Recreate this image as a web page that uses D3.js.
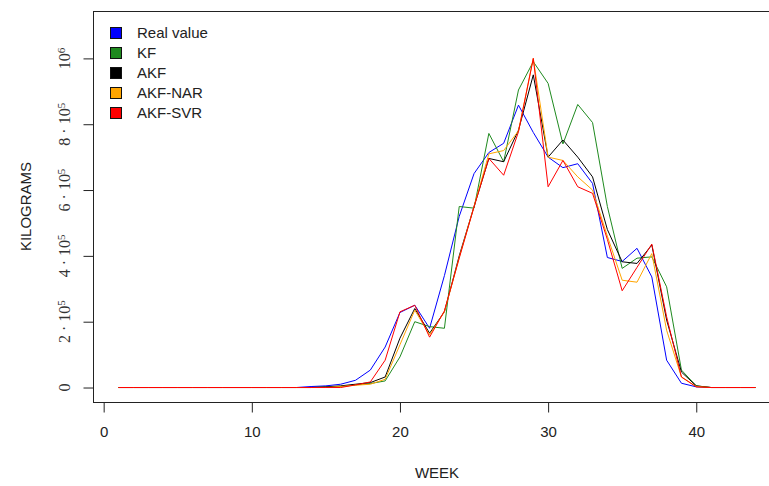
<!DOCTYPE html>
<html>
<head>
<meta charset="utf-8">
<script src="https://cdn.jsdelivr.net/npm/d3@7"></script>
<style>
  body { margin: 0; background: #fff; }
  svg { display: block; }
</style>
</head>
<body>
<div id="chart"></div>
<script>
// --- Daten (Wochen 1..44, Kilogramm) ---
const weeks = d3.range(1, 45);

const realValue = [0,0,0,0,0,0,0,0,0,0,0,0,0,
  3000,5000,10000,22000,53000,123000,228000,250000,180000,340000,520000,650000,714000,742000,
  858000,775000,700000,668000,680000,620000,395000,383000,423000,336000,83000,13000,2000,
  0,0,0,0];
const kf = [0,0,0,0,0,0,0,0,0,0,0,0,0,0,
  1000,3000,8000,12000,20000,93000,200000,185000,180000,550000,545000,772000,686000,904000,
  990000,924000,740000,860000,805000,550000,362000,393000,397000,306000,53000,5000,
  0,0,0,0];
const akf = [0,0,0,0,0,0,0,0,0,0,0,0,0,0,
  2000,5000,10000,15000,32000,150000,240000,165000,230000,400000,550000,696000,686000,782000,
  950000,700000,752000,700000,640000,480000,382000,377000,433000,205000,47000,5000,
  0,0,0,0];
const akfNar = [0,0,0,0,0,0,0,0,0,0,0,0,0,0,0,
  3000,7000,10000,25000,130000,235000,160000,230000,395000,550000,710000,720000,780000,
  1000000,700000,690000,640000,600000,460000,326000,320000,407000,174000,32000,3000,
  0,0,0,0];
const akfSvr = [0,0,0,0,0,0,0,0,0,0,0,0,0,0,0,0,
  8000,17000,83000,230000,250000,153000,233000,393000,549000,696000,645000,777000,
  1000000,610000,690000,610000,590000,450000,294000,365000,436000,215000,32000,2000,
  0,0,0,0];

const seriesNames = ["Real value", "KF", "AKF", "AKF-NAR", "AKF-SVR"];
const seriesValues = [realValue, kf, akf, akfNar, akfSvr];
const seriesColors = ["#0000ff", "#1f8a1f", "#000000", "#ffa500", "#ff0000"];

const xTicks = [0, 10, 20, 30, 40];
const yTicks = [0, 200000, 400000, 600000, 800000, 1000000];
// Basis + Exponent (wie R: 2 %.% 10^5)
const yTickLabels = [["0", ""], ["2 \u00b7 10", "5"], ["4 \u00b7 10", "5"], ["6 \u00b7 10", "5"], ["8 \u00b7 10", "5"], ["10", "6"]];

// --- Layout (R-Plotregion, rechter Rand abgeschnitten) ---
const W = 769, H = 486;
const plot = { left: 93, right: 781, top: 11, bottom: 402 };

// R: 4% Erweiterung der Achsenbereiche
const xPad = (44 - 1) * 0.04;
const x = d3.scaleLinear()
  .domain([1 - xPad, 44 + xPad])
  .range([plot.left, plot.right]);

const yMax = 1100000;
const y = d3.scaleLinear()
  .domain([-yMax * 0.04, yMax * 1.04])
  .range([plot.bottom, plot.top]);

const svg = d3.select("#chart").append("svg")
  .attr("width", W)
  .attr("height", H)
  .attr("viewBox", [0, 0, W, H]);

svg.append("defs").append("clipPath")
  .attr("id", "clip")
  .append("rect")
  .attr("x", plot.left).attr("y", plot.top)
  .attr("width", plot.right - plot.left).attr("height", plot.bottom - plot.top);

// --- Linien ---
const line = d3.line()
  .x((d, i) => x(weeks[i]))
  .y(d => y(d));

svg.append("g")
  .attr("clip-path", "url(#clip)")
  .selectAll("path")
  .data(seriesValues)
  .join("path")
  .attr("d", line)
  .attr("fill", "none")
  .attr("stroke", (d, i) => seriesColors[i])
  .attr("stroke-width", 1)
  .attr("stroke-linejoin", "round");

// --- Rahmen ---
svg.append("rect")
  .attr("x", plot.left + 0.5)
  .attr("y", plot.top + 0.5)
  .attr("width", plot.right - plot.left)
  .attr("height", plot.bottom - plot.top)
  .attr("fill", "none")
  .attr("stroke", "#222")
  .attr("stroke-width", 1);

// --- x-Achse ---
const xAxisG = svg.append("g")
  .attr("transform", `translate(0,${plot.bottom + 0.5})`)
  .call(d3.axisBottom(x).tickValues(xTicks).tickSize(10).tickPadding(14));

xAxisG.select(".domain").remove();
xAxisG.selectAll("line").attr("stroke", "#222");
xAxisG.selectAll("text")
  .attr("font-family", "'Liberation Sans', Arial, sans-serif")
  .attr("font-size", "15px")
  .attr("fill", "#222");

// --- y-Achse ---
const yAxisG = svg.append("g")
  .attr("transform", `translate(${plot.left + 0.5},0)`)
  .call(d3.axisLeft(y).tickValues(yTicks).tickSize(10).tickFormat(""));

yAxisG.select(".domain").remove();
yAxisG.selectAll("line").attr("stroke", "#222");

// gedrehte Beschriftungen mit Exponent
const yLab = svg.append("g")
  .selectAll("text")
  .data(yTicks)
  .join("text")
  .attr("transform", d => `translate(70,${y(d)}) rotate(-90)`)
  .attr("text-anchor", "middle")
  .attr("font-family", "'Liberation Serif', 'Times New Roman', serif")
  .attr("font-size", "16px")
  .attr("fill", "#333");

yLab.append("tspan").text((d, i) => yTickLabels[i][0]);
yLab.append("tspan")
  .attr("dy", "-0.5em")
  .attr("font-size", "11px")
  .text((d, i) => yTickLabels[i][1]);

// --- Achsentitel ---
svg.append("text")
  .attr("x", (plot.left + plot.right) / 2)
  .attr("y", 478)
  .attr("text-anchor", "middle")
  .attr("font-family", "'Liberation Sans', Arial, sans-serif")
  .attr("font-size", "15px")
  .attr("fill", "#222")
  .text("WEEK");

svg.append("text")
  .attr("transform", `translate(31,${(plot.top + plot.bottom) / 2}) rotate(-90)`)
  .attr("text-anchor", "middle")
  .attr("font-family", "'Liberation Sans', Arial, sans-serif")
  .attr("font-size", "15px")
  .attr("fill", "#222")
  .text("KILOGRAMS");

// --- Legende ---
const legend = svg.append("g")
  .attr("transform", "translate(110,27)");

const item = legend.selectAll("g")
  .data(seriesNames)
  .join("g")
  .attr("transform", (d, i) => `translate(0,${i * 20})`);

item.append("rect")
  .attr("x", 0.5)
  .attr("y", 0.5)
  .attr("width", 11)
  .attr("height", 11)
  .attr("fill", (d, i) => seriesColors[i])
  .attr("stroke", "#111")
  .attr("stroke-width", 1);

item.append("text")
  .attr("x", 27)
  .attr("y", 6)
  .attr("dy", "0.35em")
  .attr("font-family", "'Liberation Sans', Arial, sans-serif")
  .attr("font-size", "15px")
  .attr("fill", "#222")
  .text(d => d);
</script>
</body>
</html>
